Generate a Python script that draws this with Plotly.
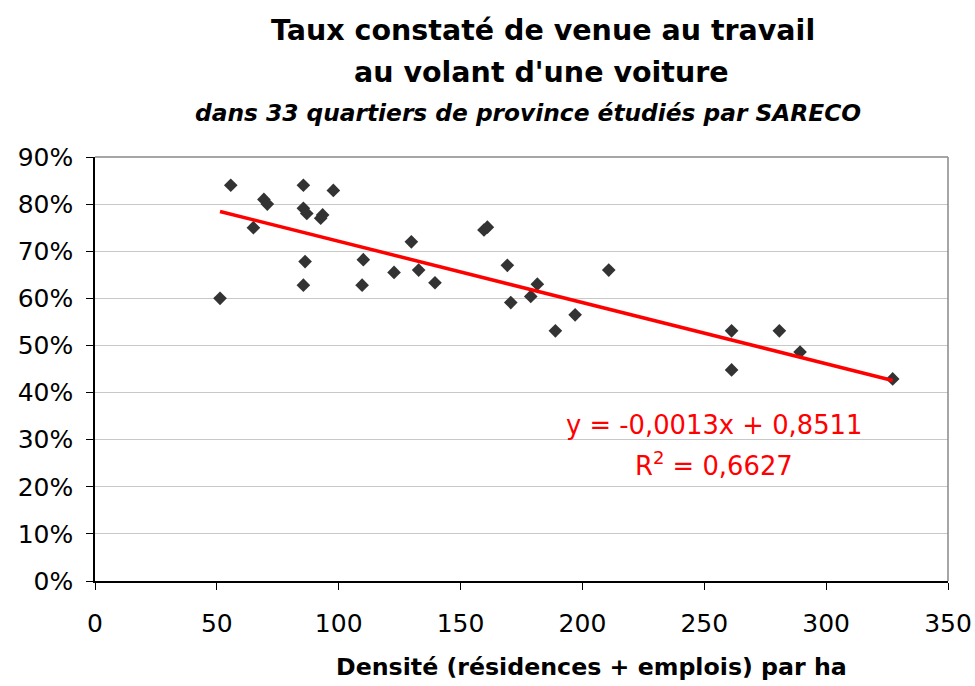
import plotly.graph_objects as go

density = [55.7, 51.3, 65.0, 69.3, 70.7, 85.5, 85.5, 86.9, 86.2, 85.5,
           97.8, 92.6, 93.4, 110.1, 109.6, 122.7, 129.8, 132.8, 139.5, 159.6,
           161.0, 169.2, 170.6, 178.8, 181.5, 188.9, 197.0, 210.8, 261.2, 261.2,
           280.8, 289.3, 327.3]
rate = [0.840, 0.600, 0.750, 0.810, 0.800, 0.840, 0.791, 0.780, 0.678, 0.628,
        0.829, 0.770, 0.777, 0.682, 0.628, 0.655, 0.720, 0.660, 0.633, 0.745,
        0.751, 0.670, 0.591, 0.604, 0.630, 0.531, 0.565, 0.660, 0.531, 0.448,
        0.531, 0.486, 0.429]
slope = -0.0013
intercept = 0.8511
eq_text = "y = -0,0013x + 0,8511"
r2_text = "R<sup>2</sup> = 0,6627"
x_ticks = [0, 50, 100, 150, 200, 250, 300, 350]
y_ticks = [0, 0.1, 0.2, 0.3, 0.4, 0.5, 0.6, 0.7, 0.8, 0.9]

FONT = "DejaVu Sans"

fig = go.Figure()
fig.add_trace(go.Scatter(
    x=density, y=rate, mode="markers",
    marker=dict(symbol="diamond", size=10.5, color="#333333"),
    showlegend=False))

xmin, xmax = min(density), max(density)
fig.add_trace(go.Scatter(
    x=[xmin, xmax], y=[slope * xmin + intercept, slope * xmax + intercept],
    mode="lines", line=dict(color="#ff0000", width=3.5), showlegend=False))

L, R, T, B = 95, 27, 157, 105
W, H = 975, 686
pw, ph = W - L - R, H - T - B

def px_x(p):
    return (p - L) / pw

def px_y(p):
    return (H - B - p) / ph

annotations = [
    dict(text="<b>Taux constaté de venue au travail</b>", x=px_x(543), y=px_y(31),
         font=dict(size=28.5, family=FONT, color="black")),
    dict(text="<b>au volant d'une voiture</b>", x=px_x(541), y=px_y(72),
         font=dict(size=28.5, family=FONT, color="black")),
    dict(text="<b><i>dans 33 quartiers de province étudiés par SARECO</i></b>", x=px_x(528), y=px_y(112),
         font=dict(size=23.3, family=FONT, color="black")),
    dict(text="<b>Densité (résidences + emplois) par ha</b>", x=px_x(591), y=px_y(667),
         font=dict(size=23.7, family=FONT, color="black")),
    dict(text=eq_text, x=px_x(714), y=px_y(425),
         font=dict(size=25.8, family=FONT, color="#ff0000")),
    dict(text=r2_text, x=px_x(714), y=px_y(464),
         font=dict(size=25.8, family=FONT, color="#ff0000")),
]
for a in annotations:
    a.update(xref="paper", yref="paper", showarrow=False, xanchor="center", yanchor="middle")

fig.update_layout(
    width=W, height=H,
    margin=dict(l=L, r=R, t=T, b=B, autoexpand=False),
    plot_bgcolor="white", paper_bgcolor="white",
    font=dict(family=FONT, size=25, color="black"),
    annotations=annotations,
    shapes=[
        dict(type="line", xref="paper", yref="paper", x0=0, x1=1, y0=1, y1=1,
             line=dict(color="#888888", width=1.5)),
        dict(type="line", xref="paper", yref="paper", x0=1, x1=1, y0=0, y1=1,
             line=dict(color="#888888", width=1.5)),
    ],
)
fig.update_xaxes(range=[0, 350], tickvals=x_ticks, ticktext=[str(v) for v in x_ticks],
                 showgrid=False, zeroline=False, showline=True, linecolor="black", linewidth=1.5,
                 ticks="outside", ticklen=7, tickcolor="black", tickfont=dict(size=25),
                 automargin=False, ticklabelstandoff=12)
fig.update_yaxes(range=[0, 0.9], tickvals=y_ticks, ticktext=[f"{round(v*100)}%" for v in y_ticks],
                 showgrid=True, gridcolor="#c8c8c8", gridwidth=1, zeroline=False,
                 showline=True, linecolor="black", linewidth=1.5,
                 ticks="outside", ticklen=7, tickcolor="black", tickfont=dict(size=25),
                 automargin=False, ticklabelstandoff=8)

fig.write_html("out.html", config={"displayModeBar": False},
               post_script="document.body.style.margin='0';document.body.style.overflow='hidden';")
